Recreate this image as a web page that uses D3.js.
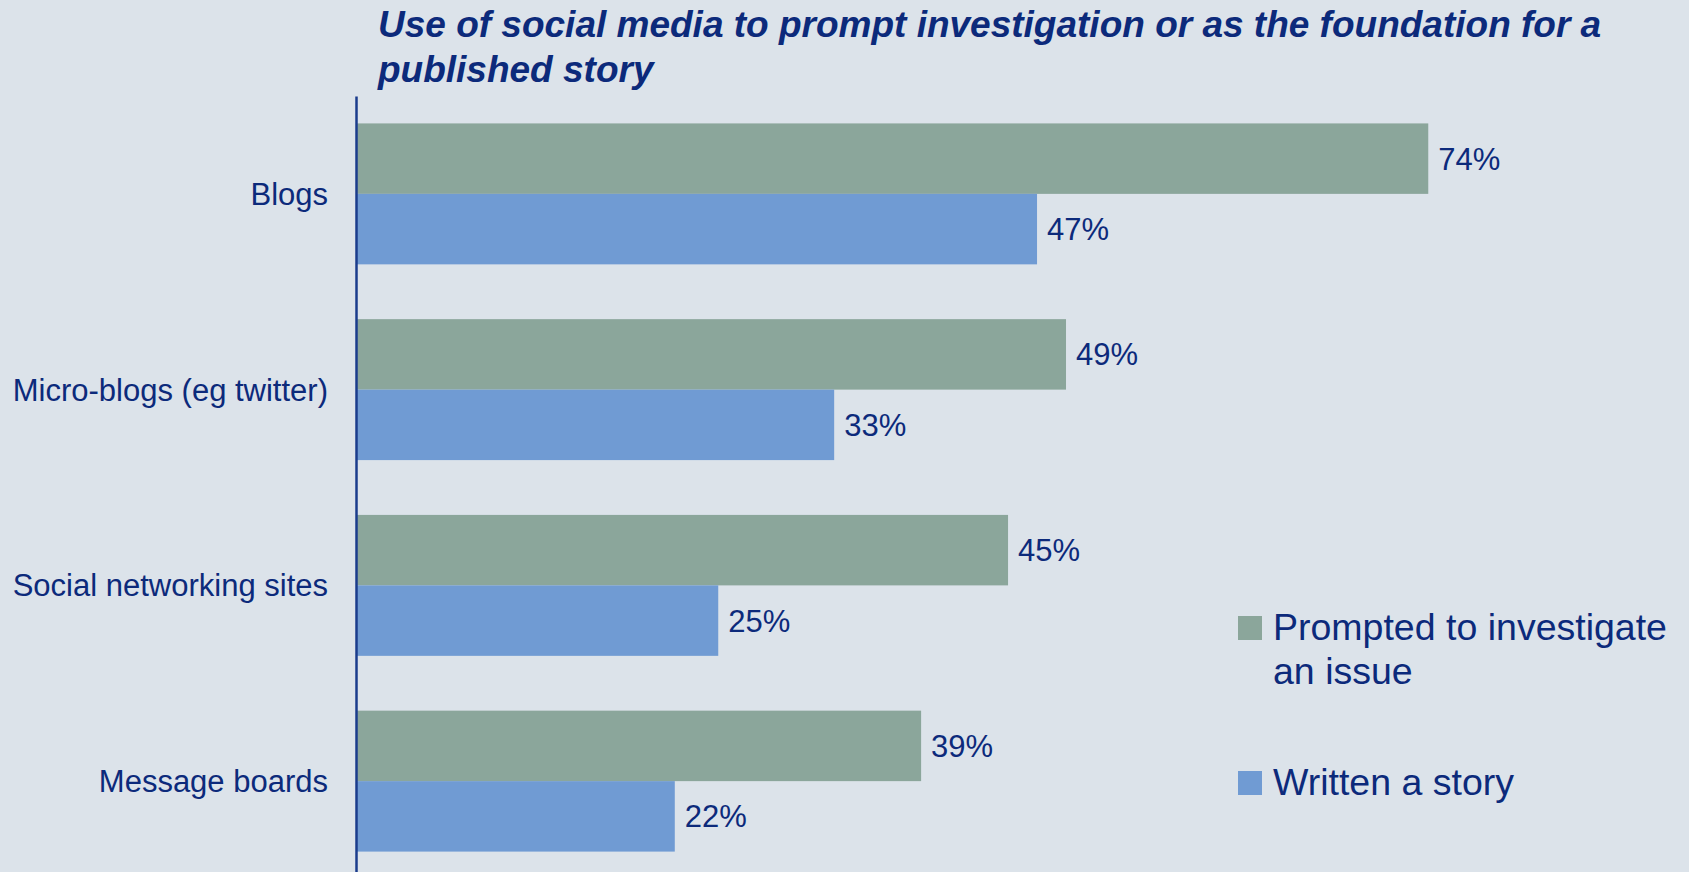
<!DOCTYPE html>
<html>
<head>
<meta charset="utf-8">
<script src="https://cdn.jsdelivr.net/npm/d3@7"></script>
<style>
  html, body { margin: 0; padding: 0; background: #dce3ea; }
  svg { display: block; }
  text { font-family: "Liberation Sans", Arial, sans-serif; fill: #0c2a7b; }
</style>
</head>
<body>
<svg id="chart" width="1689" height="872"></svg>
<script>
// Categories and the two series (percent of respondents)
const categories = ["Blogs", "Micro-blogs (eg twitter)", "Social networking sites", "Message boards"];
const seriesNames = ["Prompted to investigate an issue", "Written a story"];
const prompted = [74, 49, 45, 39];
const written = [47, 33, 25, 22];
const titleLines = ["Use of social media to prompt investigation or as the foundation for a", "published story"];
const legendLines = [["Prompted to investigate", "an issue"], ["Written a story"]];

const colors = ["#8ba69b", "#709bd3"];
const W = 1689, H = 872;
const svg = d3.select("#chart");

svg.append("rect").attr("width", W).attr("height", H).attr("fill", "#dce3ea");

// Title
const title = svg.append("text")
  .attr("x", 378).attr("y", 37)
  .style("font-size", "37px").style("font-weight", "bold").style("font-style", "italic");
title.selectAll("tspan").data(titleLines).join("tspan")
  .attr("x", 378).attr("dy", (d, i) => i === 0 ? 0 : 45).text(d => d);

// Scales
const x = d3.scaleLinear().domain([0, 100]).range([356, 356 + 1449]);
const y = d3.scaleBand().domain(categories).range([96, 879]).paddingInner(0.28).paddingOuter(0.14);
const sub = d3.scaleBand().domain([0, 1]).range([0, y.bandwidth()]);

const rows = categories.map((c, i) => ({ cat: c, vals: [prompted[i], written[i]] }));

const groups = svg.selectAll("g.row").data(rows).join("g")
  .attr("class", "row")
  .attr("transform", d => `translate(0,${y(d.cat)})`);

groups.selectAll("rect").data(d => d.vals).join("rect")
  .attr("x", x(0))
  .attr("y", (d, i) => sub(i))
  .attr("width", d => x(d) - x(0))
  .attr("height", sub.bandwidth())
  .attr("fill", (d, i) => colors[i]);

groups.selectAll("text.val").data(d => d.vals).join("text")
  .attr("class", "val")
  .attr("x", d => x(d) + 10)
  .attr("y", (d, i) => sub(i) + sub.bandwidth() / 2 + 11)
  .style("font-size", "31px")
  .text(d => d + "%");

// Category axis on the left
const yAxis = svg.append("g").attr("transform", `translate(${x(0)},0)`)
  .call(d3.axisLeft(y).tickSize(0).tickPadding(28));
yAxis.select(".domain").attr("stroke", "#1b3c8c").attr("stroke-width", 2.5);
yAxis.selectAll(".tick text")
  .attr("dy", null)
  .attr("y", 11)
  .style("font-size", "31px")
  .style("font-family", "'Liberation Sans', Arial, sans-serif")
  .attr("fill", "#0c2a7b");

// Legend
const legendY = [616, 771];
legendLines.forEach((lines, i) => {
  const g = svg.append("g").attr("transform", `translate(1238,${legendY[i]})`);
  g.append("rect").attr("width", 24).attr("height", 24).attr("fill", colors[i]);
  const t = g.append("text").attr("x", 35).attr("y", 24).style("font-size", "37.5px");
  t.selectAll("tspan").data(lines).join("tspan")
    .attr("x", 35).attr("dy", (d, j) => j === 0 ? 0 : 44).text(d => d);
});
</script>
</body>
</html>
